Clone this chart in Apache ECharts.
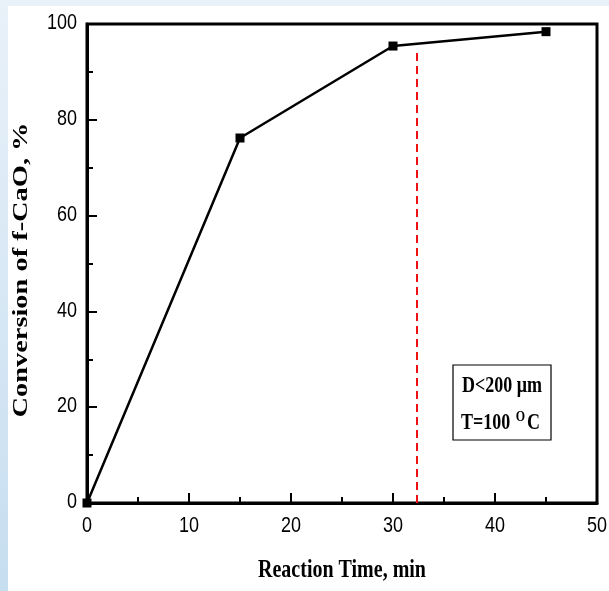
<!DOCTYPE html>
<html><head><meta charset="utf-8">
<script src="https://cdn.jsdelivr.net/npm/echarts@6/dist/echarts.min.js"></script>
<style>html,body{margin:0;padding:0;background:#fff}#c{width:609px;height:591px}</style>
</head><body><div id="c"></div>
<script>
var times = [0, 15, 30, 45];
var conversion = [0, 76.2, 95.4, 98.4];
var xTicks = [0, 10, 20, 30, 40, 50];
var yTicks = [0, 20, 40, 60, 80, 100];
var markerTime = 32.35;
var markerTop = 94.3;
var xTitle = 'Reaction Time, min';
var yTitle = 'Conversion of f-CaO, %';
var annoLines = ['D<200 μm', 'T=100 {sup|O}C'];

var chart = echarts.init(document.getElementById('c'), null, {renderer: 'canvas'});
var serif = '"Liberation Serif","Times New Roman",serif';
var sans = '"Liberation Sans",Arial,sans-serif';
var baseGraphic = [
  {id: 'bg', type: 'rect', z: -10, shape: {x: 8, y: 6, width: 601, height: 585}, style: {fill: '#ffffff'}},
  {id: 'yt', type: 'text', z: 5, x: 21.5, y: 270, rotation: Math.PI / 2, scaleX: 1.42,
    style: {text: yTitle, font: 'bold 20px ' + serif, fill: '#000', align: 'center', verticalAlign: 'middle'}},
  {id: 'xt', type: 'text', z: 5, x: 342, y: 570, scaleY: 1.3,
    style: {text: xTitle, font: 'bold 20px ' + serif, fill: '#000', align: 'center', verticalAlign: 'middle'}},
  {id: 'box', type: 'rect', z: 10, shape: {x: 453, y: 365, width: 98, height: 75}, style: {fill: '#ffffff', stroke: '#000', lineWidth: 1.2}},
  {id: 'a1', type: 'text', z: 11, x: 502, y: 386.5, scaleY: 1.25, style: {text: annoLines[0], font: 'bold 18px ' + serif, fill: '#000', align: 'center', verticalAlign: 'middle'}},
  {id: 'a2', type: 'text', z: 11, x: 500.5, y: 423, scaleY: 1.25, style: {text: annoLines[1], font: 'bold 18px ' + serif, fill: '#000', align: 'center', verticalAlign: 'middle',
    rich: {sup: {font: 'bold 12px ' + serif, fill: '#000', verticalAlign: 'top', padding: [0, 2, 10, 1]}}}}
];
chart.setOption({
  animation: false,
  backgroundColor: {type: 'linear', x: 0, y: 0, x2: 0, y2: 1, colorStops: [
    {offset: 0, color: '#e9f1f9'}, {offset: 1, color: '#c6def0'}]},
  graphic: baseGraphic,
  grid: {left: 87, top: 24, right: 12, bottom: 88, show: true, borderColor: '#000', borderWidth: 3, backgroundColor: '#fff'},
  xAxis: {
    type: 'value', min: xTicks[0], max: xTicks[xTicks.length - 1], interval: 10,
    axisLine: {lineStyle: {color: '#000', width: 3}},
    axisTick: {inside: true, length: 10, lineStyle: {color: '#000', width: 2}},
    minorTick: {show: true, splitNumber: 2, length: 6, lineStyle: {color: '#000', width: 2}},
    axisLabel: {show: false},
    splitLine: {show: false}
  },
  yAxis: {
    type: 'value', min: yTicks[0], max: yTicks[yTicks.length - 1], interval: 20,
    axisLine: {lineStyle: {color: '#000', width: 3}},
    axisTick: {inside: true, length: 10, lineStyle: {color: '#000', width: 2}},
    minorTick: {show: true, splitNumber: 2, length: 6, lineStyle: {color: '#000', width: 2}},
    axisLabel: {show: false},
    splitLine: {show: false}
  },
  series: [{
    type: 'line',
    data: times.map(function (t, i) { return [t, conversion[i]]; }),
    symbol: 'rect', symbolSize: 9, showSymbol: true,
    itemStyle: {color: '#000'},
    lineStyle: {color: '#000', width: 2.5},
    markLine: {
      silent: true, symbol: ['none', 'none'], label: {show: false},
      lineStyle: {color: '#ee1111', width: 2, type: [8, 5]},
      data: [[{coord: [markerTime, 0]}, {coord: [markerTime, markerTop]}]]
    }
  }]
});
// tick labels placed through the axes' own scales
var labels = [];
yTicks.forEach(function (v, i) {
  var p = chart.convertToPixel({gridIndex: 0}, [0, v]);
  labels.push({id: 'yl' + i, type: 'text', z: 5, x: p[0] - 10, y: p[1] - 1, scaleY: 1.25,
    style: {text: String(v), font: '18px ' + sans, fill: '#000', align: 'right', verticalAlign: 'middle'}});
});
xTicks.forEach(function (v, i) {
  var p = chart.convertToPixel({gridIndex: 0}, [v, 0]);
  labels.push({id: 'xl' + i, type: 'text', z: 5, x: p[0], y: p[1] + 23, scaleY: 1.25,
    style: {text: String(v), font: '18px ' + sans, fill: '#000', align: 'center', verticalAlign: 'middle'}});
});
chart.setOption({graphic: baseGraphic.concat(labels)});
</script></body></html>
